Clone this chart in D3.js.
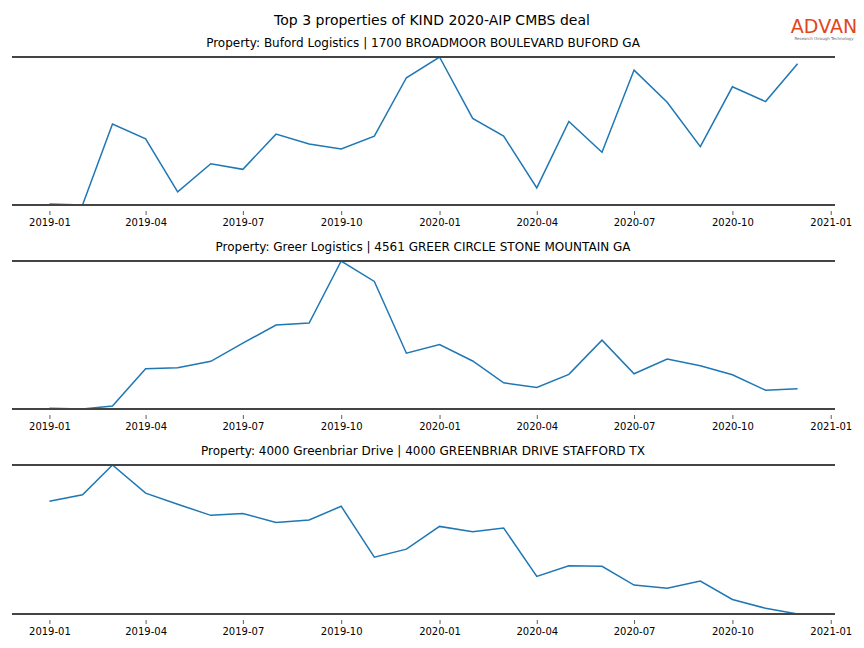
<!DOCTYPE html>
<html>
<head>
<meta charset="utf-8">
<script src="https://cdn.jsdelivr.net/npm/d3@7"></script>
<style>
    body { margin: 0; background: #fff; }
    text { font-family: "DejaVu Sans", sans-serif; }
</style>
</head>
<body>
<div id="chart"></div>
<script>

const months = ["2019-01","2019-02","2019-03","2019-04","2019-05","2019-06","2019-07","2019-08","2019-09","2019-10","2019-11","2019-12",
    "2020-01","2020-02","2020-03","2020-04","2020-05","2020-06","2020-07","2020-08","2020-09","2020-10","2020-11","2020-12"]

const titles = [
    "Property: Buford Logistics | 1700 BROADMOOR BOULEVARD BUFORD GA",
    "Property: Greer Logistics | 4561 GREER CIRCLE STONE MOUNTAIN GA",
    "Property: 4000 Greenbriar Drive | 4000 GREENBRIAR DRIVE STAFFORD TX"
]

const buford = [1.0, 0, 80.4, 65.7, 13.0, 41.0, 35.4, 70.4, 60.5, 55.7, 68.4, 126.4,
    147.0, 86.0, 68.4, 17.0, 83.0, 52.4, 134.0, 102.0, 58.0, 117.4, 102.7, 140.4]

const greer = [0.7, 0, 3.0, 40.0, 41.0, 47.4, 65.4, 83.4, 85.4, 147.0, 126.7, 55.4,
    64.0, 47.7, 26.0, 21.4, 34.4, 68.4, 35.0, 49.7, 43.0, 34.0, 18.7, 20.0]

const greenbriar = [112.0, 118.4, 148.0, 120.0, 109.0, 98.0, 99.7, 91.0, 93.4, 107.0, 56.4, 64.4,
    87.0, 81.7, 85.4, 37.4, 48.0, 47.4, 28.7, 25.7, 32.7, 14.4, 5.7, 0]

const tickMonths = ["2019-01","2019-04","2019-07","2019-10","2020-01","2020-04","2020-07","2020-10","2021-01"]

const parseMonth = d3.timeParse("%Y-%m")

const svg = d3.select("#chart")
    .append("svg")
    .attr("width", 864)
    .attr("height", 648)

svg.append("text")
    .text("Top 3 properties of KIND 2020-AIP CMBS deal")
    .attr("x", 432)
    .attr("y", 25)
    .attr("text-anchor", "middle")
    .attr("font-size", "14px")
    .attr("fill", "#000")

// logo
svg.append("text")
    .text("ADVAN")
    .attr("x", 824)
    .attr("y", 33)
    .attr("text-anchor", "middle")
    .attr("font-family", "Liberation Sans, sans-serif")
    .attr("font-size", "19px")
    .attr("fill", "#e2461b")
svg.append("text")
    .text("Research through Technology")
    .attr("x", 824)
    .attr("y", 40)
    .attr("text-anchor", "middle")
    .attr("font-size", "4px")
    .attr("fill", "#666")

const dates = months.map(parseMonth)
const span = dates[dates.length - 1] - dates[0]
const x = d3.scaleTime()
    .domain([new Date(+dates[0] - span * 0.05), new Date(+dates[dates.length - 1] + span * 0.05)])
    .range([12, 835])

const panels = [
    {title: titles[0], values: buford, top: 57, bottom: 205},
    {title: titles[1], values: greer, top: 261, bottom: 409},
    {title: titles[2], values: greenbriar, top: 465, bottom: 614}
]

panels.forEach(p => {

    let g = svg.append("g")

    let y = d3.scaleLinear()
        .domain(d3.extent(p.values))
        .range([p.bottom, p.top])

    g.append("text")
        .text(p.title)
        .attr("x", 423)
        .attr("y", p.top - 10)
        .attr("text-anchor", "middle")
        .attr("font-size", "12px")
        .attr("fill", "#000")

    // ticks sit a little below the bottom line
    let axis = g.append("g")
        .attr("transform", "translate(0," + (p.bottom + 6) + ")")
        .call(d3.axisBottom(x)
            .tickValues(tickMonths.map(parseMonth))
            .tickFormat(d3.timeFormat("%Y-%m"))
            .tickSize(4)
            .tickPadding(4))
    axis.select(".domain").remove()
    axis.selectAll(".tick line").attr("stroke", "#333").attr("stroke-width", 0.8)
    axis.selectAll(".tick text").attr("font-size", "10px").attr("font-family", "DejaVu Sans").attr("fill", "#000")

    let line = d3.line()
        .x((d, i) => x(dates[i]))
        .y(d => y(d))

    g.append("path")
        .datum(p.values)
        .attr("d", line)
        .attr("fill", "none")
        .attr("stroke", "#1f77b4")
        .attr("stroke-width", 1.5)

    // top and bottom spines
    ;[p.top, p.bottom].forEach(yy => g.append("line")
        .attr("x1", 12).attr("x2", 835)
        .attr("y1", yy).attr("y2", yy)
        .attr("stroke", "#444")
        .attr("stroke-width", 2))
})

</script>
</body>
</html>
